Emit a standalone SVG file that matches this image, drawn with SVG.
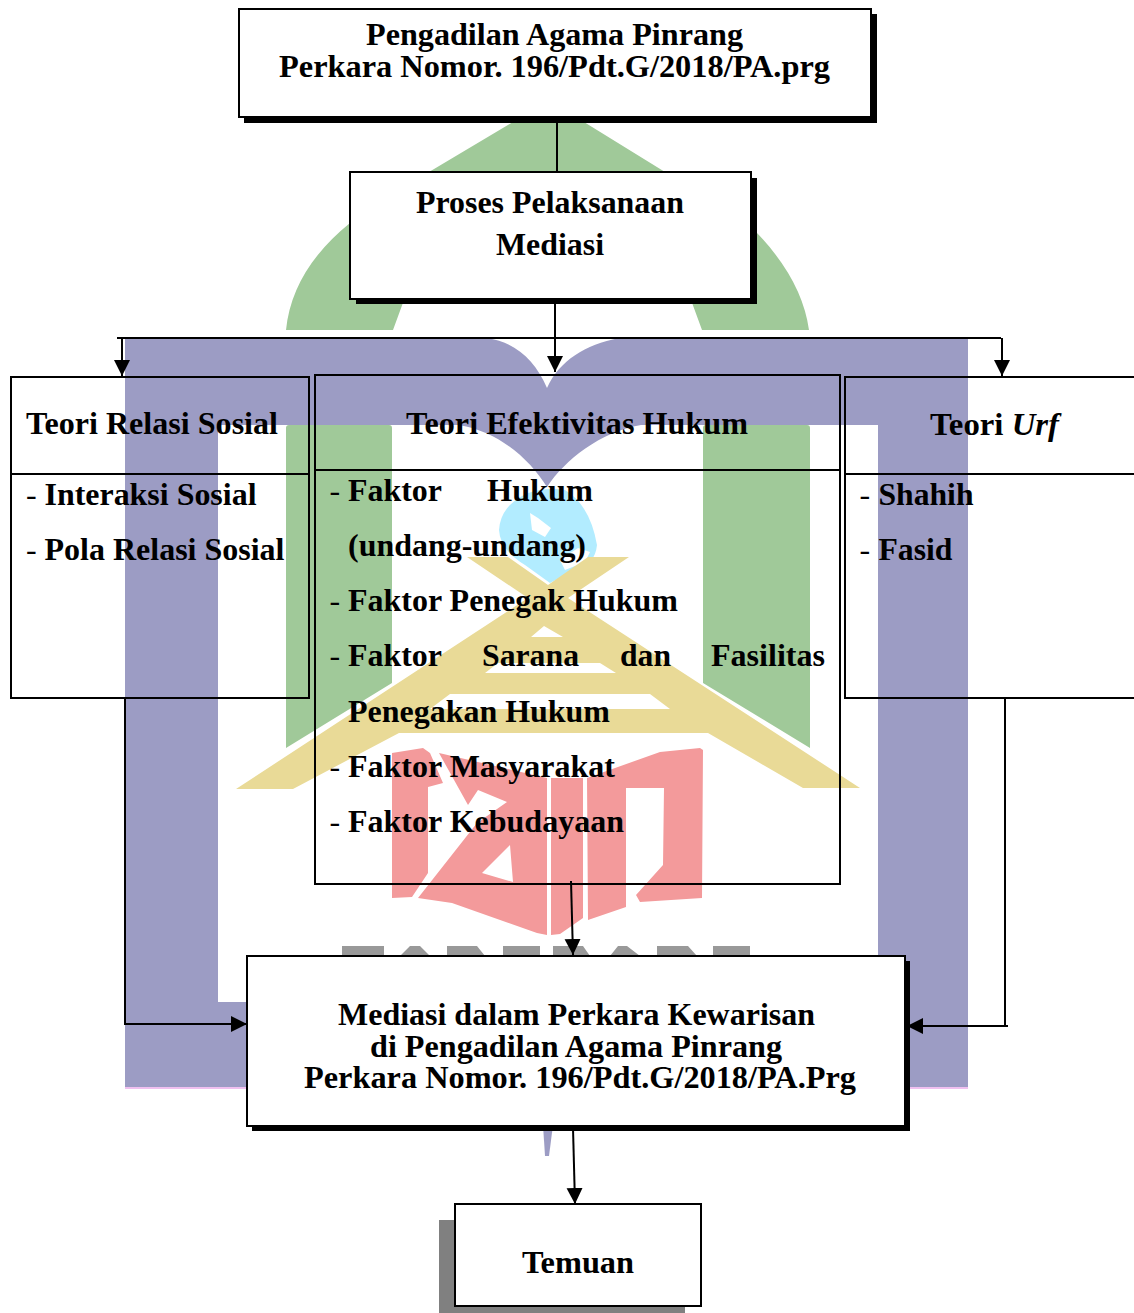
<svg xmlns="http://www.w3.org/2000/svg" width="1134" height="1313" viewBox="0 0 1134 1313">
<defs>
<marker id="ah" markerUnits="userSpaceOnUse" markerWidth="17" markerHeight="18" refX="16" refY="8" orient="auto"><path d="M0 0L16 8L0 16Z" fill="#000"/></marker>
</defs>
<style>
text{font-family:"Liberation Serif","Times New Roman",serif;font-weight:bold;font-size:32px;fill:#000}
.d{font-weight:normal}
.m{text-anchor:middle}
.b{fill:#fff;stroke:#000;stroke-width:2}
.o{fill:none;stroke:#000;stroke-width:2}
.c{fill:none;stroke:#000;stroke-width:2}
</style>
<rect width="1134" height="1313" fill="#fff"/>
<g id="watermark">
<path fill="#a0c999" d="M513 122H584L665 172L757 233Q802 280 809 330H702L691 300H404L393 330H286Q292 270 350 223L429 172Z"/>
<path fill="#a0c999" d="M289 425H389Q392 425 392 428V683L286 748V428Q286 425 289 425ZM706 425H807Q810 425 810 428V748L703 683V428Q703 425 706 425Z"/>
<path fill="#9c9cc4" fill-rule="evenodd" d="M125 338H487C515 342 535 360 547 388C560 360 585 345 619 338H968V1087H125ZM218 425V1002H878V425H641C600 432 565 460 547 487C530 460 500 432 459 425Z"/>
<path fill="#f0c0f0" d="M125 1087H968V1089H125Z"/>
<path fill="#9c9cc4" d="M543 1125H553L549 1156H545Z"/>
<path fill="#b2ecff" d="M510 505Q530 485 565 490Q590 505 597 545Q595 565 575 570L550 583L525 565Q500 550 499 530Q500 515 510 505Z"/>
<path fill="#fff" d="M530 513L538 518L551 528L545 537L532 530ZM578 548L590 552L585 562L565 570L560 560Z"/>
<path fill="#e9da97" fill-rule="evenodd" d="M467 557H508L548 585L588 557H629L568 598L860 788H803L708 733H399L293 789H236L528 598ZM544 626L531 637H563ZM498 663L485 673H616L600 663ZM450 694L430 709H670L650 694Z"/>
<path fill="#f39a9b" d="M392 753L423 748L430 753L443 783L428 787V873L412 897L392 898ZM439 753L547 778V935L537 933L452 903L418 898L477 823L507 802L478 790L468 805ZM510 845L482 873L513 882ZM551 778H583V918L560 934L551 935ZM587 778L660 752L700 748L703 750L702 898L640 902L636 895L663 865L664 788H626V907L588 920Z" fill-rule="evenodd"/>
<path fill="#999" d="M342 946H384V956H342ZM400 956L410 946H420L430 956ZM447 946H477L485 956H447ZM503 946H540V956H503ZM553 946H583L590 956H553ZM610 956L618 946H627L640 956ZM657 946H688L697 956H657ZM713 946H750V956H713Z"/>
</g>
<g id="connectors">
<path class="c" d="M557 118V172"/>
<path class="c" d="M555 298V372" marker-end="url(#ah)"/>
<path class="c" d="M117 338H1001"/>
<path class="c" d="M122 338V376" marker-end="url(#ah)"/>
<path class="c" d="M1002 338V376" marker-end="url(#ah)"/>
<path class="c" d="M571 881L573 955" marker-end="url(#ah)"/>
<path class="c" d="M125 698V1024H247" marker-end="url(#ah)"/>
<path class="c" d="M1005 698V1026"/>
<path class="c" d="M1008 1026H907" marker-end="url(#ah)"/>
<path class="c" d="M573 1128L575 1204" marker-end="url(#ah)"/>
</g>
<g id="node-pengadilan">
<rect x="244" y="14" width="633" height="109" fill="#000"/>
<rect class="b" x="239" y="9" width="632" height="108"/>
<text><tspan x="366" y="45" textLength="377" lengthAdjust="spacingAndGlyphs">Pengadilan Agama Pinrang</tspan><tspan x="279" y="77" textLength="551" lengthAdjust="spacingAndGlyphs">Perkara Nomor. 196/Pdt.G/2018/PA.prg</tspan></text>
</g>
<g id="node-proses">
<rect x="356" y="178" width="401" height="126" fill="#000"/>
<rect class="b" x="350" y="172" width="401" height="127"/>
<text class="m" x="550" y="213" textLength="268" lengthAdjust="spacingAndGlyphs">Proses Pelaksanaan</text>
<text class="m" x="550" y="255" textLength="108" lengthAdjust="spacingAndGlyphs">Mediasi</text>
</g>
<g id="node-relasi">
<rect class="o" x="11" y="377" width="298" height="321"/>
<path class="o" d="M11 474H309"/>
<text x="26" y="434" textLength="252" lengthAdjust="spacingAndGlyphs">Teori Relasi Sosial</text>
<text class="d" x="26" y="505">-</text><text x="44.5" y="505" textLength="212" lengthAdjust="spacingAndGlyphs">Interaksi Sosial</text>
<text class="d" x="26" y="560">-</text><text x="44.5" y="560" textLength="240" lengthAdjust="spacingAndGlyphs">Pola Relasi Sosial</text>
</g>
<g id="node-efektivitas">
<rect class="o" x="315" y="375" width="525" height="509"/>
<path class="o" d="M315 470H840"/>
<text x="406" y="434" textLength="342" lengthAdjust="spacingAndGlyphs">Teori Efektivitas Hukum</text>
<text class="d" x="329.5" y="501">-</text><text x="348" y="501" textLength="94" lengthAdjust="spacingAndGlyphs">Faktor</text><text x="487" y="501" textLength="106" lengthAdjust="spacingAndGlyphs">Hukum</text>
<text x="348" y="556" textLength="238" lengthAdjust="spacingAndGlyphs">(undang-undang)</text>
<text class="d" x="329.5" y="611">-</text><text x="348" y="611" textLength="330" lengthAdjust="spacingAndGlyphs">Faktor Penegak Hukum</text>
<text class="d" x="329.5" y="666">-</text><text x="348" y="666" textLength="94" lengthAdjust="spacingAndGlyphs">Faktor</text><text x="482" y="666" textLength="97" lengthAdjust="spacingAndGlyphs">Sarana</text><text x="620" y="666" textLength="51" lengthAdjust="spacingAndGlyphs">dan</text><text x="711" y="666" textLength="114" lengthAdjust="spacingAndGlyphs">Fasilitas</text>
<text x="348" y="722" textLength="262" lengthAdjust="spacingAndGlyphs">Penegakan Hukum</text>
<text class="d" x="329.5" y="777">-</text><text x="348" y="777" textLength="267" lengthAdjust="spacingAndGlyphs">Faktor Masyarakat</text>
<text class="d" x="329.5" y="832">-</text><text x="348" y="832" textLength="276" lengthAdjust="spacingAndGlyphs">Faktor Kebudayaan</text>
</g>
<g id="node-urf">
<path class="o" d="M1136 377H845V698H1136M845 474H1136"/>
<text x="930" y="435" textLength="129" lengthAdjust="spacingAndGlyphs">Teori <tspan font-style="italic">Urf</tspan></text>
<text class="d" x="859.5" y="505">-</text><text x="878.5" y="505" textLength="95" lengthAdjust="spacingAndGlyphs">Shahih</text>
<text class="d" x="859.5" y="560">-</text><text x="878.5" y="560" textLength="74" lengthAdjust="spacingAndGlyphs">Fasid</text>
</g>
<g id="node-mediasi">
<rect x="252" y="961" width="658" height="170" fill="#000"/>
<rect class="b" x="247" y="956" width="658" height="170"/>
<text><tspan x="338" y="1025" textLength="477" lengthAdjust="spacingAndGlyphs">Mediasi dalam Perkara Kewarisan</tspan><tspan x="370" y="1057" textLength="412" lengthAdjust="spacingAndGlyphs">di Pengadilan Agama Pinrang</tspan><tspan x="304" y="1088" textLength="552" lengthAdjust="spacingAndGlyphs">Perkara Nomor. 196/Pdt.G/2018/PA.Prg</tspan></text>
</g>
<g id="node-temuan">
<rect x="439" y="1220" width="246" height="93" fill="#808080"/>
<rect class="b" x="455" y="1204" width="246" height="102"/>
<text class="m" x="578" y="1273" textLength="112" lengthAdjust="spacingAndGlyphs">Temuan</text>
</g>
</svg>
